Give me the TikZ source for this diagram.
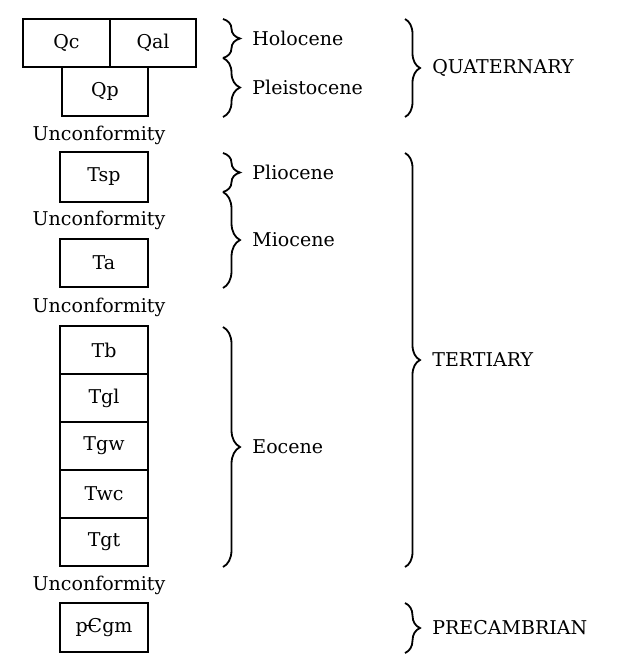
\documentclass[tikz,border=0pt]{standalone}
\usepackage{tikz}
\usepackage{fontspec}
\setmainfont{DejaVu Serif}
\usetikzlibrary{decorations.pathreplacing}
\tikzset{
    unit/.style={draw, line width=1pt, minimum width=44pt, minimum height=24pt, inner sep=0pt}, % box of one rock unit
    epoch brace/.style={decorate, decoration={brace, amplitude=8.5pt}, line width=0.9pt}, % brace for an epoch
    period brace/.style={decorate, decoration={brace, amplitude=7.5pt}, line width=0.9pt}, % brace for a period
    age/.style={anchor=west, inner sep=0pt} % epoch and period names
}
\newcommand{\cambsym}{\ooalign{C\cr\kern-0.08em\rule[0.33em]{0.5em}{0.07em}}}

\begin{document}
\begin{tikzpicture}[x=0.5pt, y=-0.5pt, font=\fontsize{9.5}{11}\selectfont]
            \useasboundingbox (0,0) rectangle (622,669);

            % Quaternary units
            \node[unit, minimum width=43.5pt] (Qc) at (66.5,43) {Qc};
            \node[unit, minimum width=43pt] (Qal) at (153,43) {Qal};
            \node[unit, minimum width=43pt, minimum height=24.5pt] (Qp) at (105,91.5) {Qp};

            % Tertiary units
            \node[unit, minimum height=25pt] (Tsp) at (104,177) {Tsp};
            \node[unit] (Ta) at (104,263) {Ta};
            \foreach \lbl [count=\i] in {Tb,Tgl,Tgw,Twc,Tgt} {\node[unit] (\lbl) at (104,302+48*\i) {\lbl};}

            % Precambrian unit
            \node[unit, minimum height=24.5pt] (pCgm) at (104,627.5) {p\cambsym gm};

            \foreach \y/\n in {135/1, 220/2, 307/3, 585/4} {\node (unc\n) at (99,\y) {Unconformity};}

            % epochs
            \draw[epoch brace] (223,19) -- (223,58);
            \draw[epoch brace] (223,58) -- (223,117);
            \draw[epoch brace] (223,153) -- (223,192);
            \draw[epoch brace] (223,192) -- (223,288);
            \draw[epoch brace] (223,327) -- (223,567);
            \node[age] (holo) at (252,38.5) {Holocene};
            \node[age] (pleis) at (252,87.5) {Pleistocene};
            \node[age] (plio) at (252,172.5) {Pliocene};
            \node[age] (mio) at (252,240) {Miocene};
            \node[age] (eoc) at (252,447) {Eocene};

            % periods
            \draw[period brace] (405,19) -- (405,117);
            \draw[period brace] (405,153) -- (405,567);
            \draw[period brace] (405,603) -- (405,653);
            \node[age] (quat) at (432,68) {QUATERNARY};
            \node[age] (tert) at (432,360) {TERTIARY};
            \node[age] (precamb) at (432,628) {PRECAMBRIAN};
        \end{tikzpicture}
\end{document}
